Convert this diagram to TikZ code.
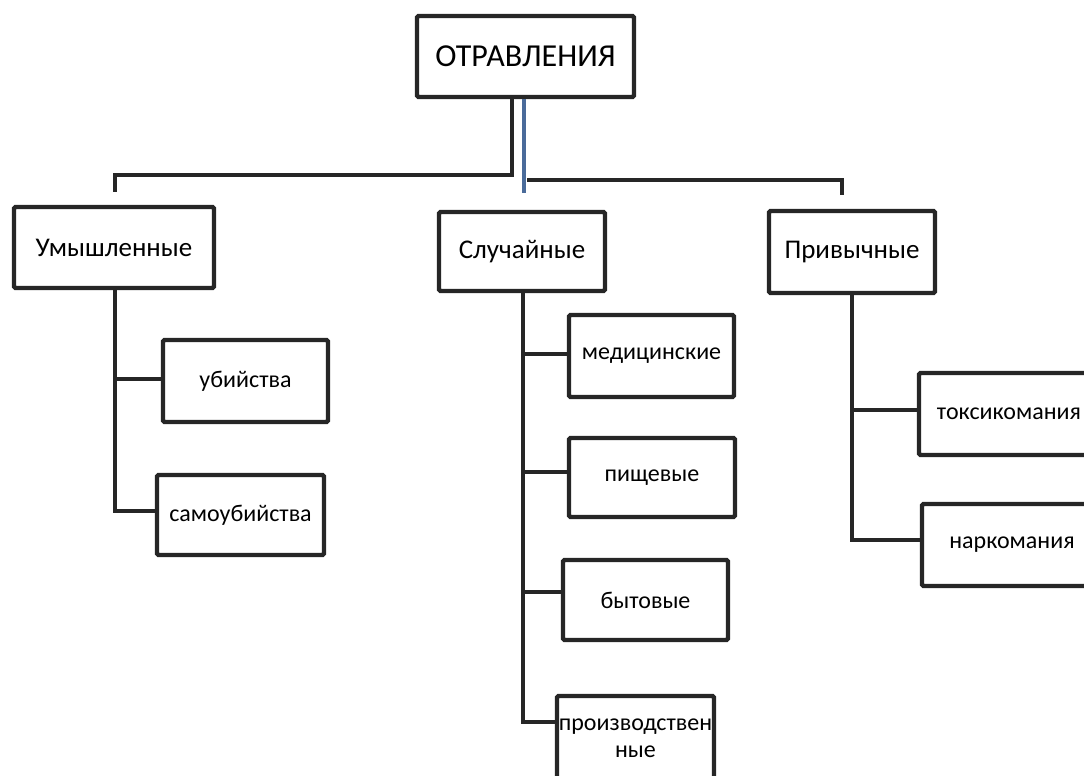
\documentclass[tikz,border=0pt]{standalone}
\usepackage{fontspec}
\setmainfont{Carlito}
\begin{document}
\begin{tikzpicture}[x=1pt,y=-1pt,
  box/.style={draw=lineclr, line width=4.4pt, rounded corners=1.5pt, fill=white, inner sep=0pt, align=center},
  big/.style={box, font=\fontsize{27}{31}\selectfont},
  small/.style={box, font=\fontsize{24}{27}\selectfont},
  conn/.style={draw=lineclr, line width=4.4pt},
  blueconn/.style={draw=blueclr, line width=4.4pt}]
\definecolor{lineclr}{HTML}{262626}
\definecolor{blueclr}{HTML}{4A6B9A}
\useasboundingbox (0,0) rectangle (1084,776);
% main boxes
\node[box, font=\fontsize{32}{36}\selectfont, minimum width=217, minimum height=81] (top) at (525.5,56.5) {ОТРАВЛЕНИЯ};
\node[big, minimum width=200, minimum height=81] (um) at (114,247.5) {Умышленные};
\node[big, minimum width=166, minimum height=79] (sl) at (522,251.5) {Случайные};
\node[big, minimum width=166, minimum height=82] (pr) at (852,252) {Привычные};
% children
\node[small, minimum width=165, minimum height=82] (ub) at (245.5,381) {убийства};
\node[small, minimum width=167, minimum height=80] (sam) at (240.5,515) {самоубийства};
\node[small, minimum width=165, minimum height=82] (med) at (651.5,356) {медицинские};
\node[small, minimum width=166, minimum height=79] (pish) at (652,477.5) {пищевые};
\node[small, minimum width=165, minimum height=80] (byt) at (645.5,600) {бытовые};
\node[small, minimum width=157, minimum height=84] (proiz) at (635.5,738) {производствен\\ные};
\node[small, minimum width=180, minimum height=82] (toks) at (1009,414) {токсикомания};
\node[small, minimum width=180, minimum height=82] (nark) at (1012,545) {наркомания};
% stub ends
\coordinate (lstub) at (115,192);
\coordinate (rstub) at (842,195);
\coordinate (mstub) at (524,193);
% top connectors
\draw[conn] (top.south -| 512,0) -- (512,175) -- (115,175) -- (lstub);
\draw[conn] (527,180) -- (842,180) -- (rstub);
\draw[blueconn] (top.south -| 524,0) -- (mstub);
% Умышленные branch
\draw[conn] (um.south -| 115,0) -- (115,513);
\draw[conn] (115,379) -- (ub.west |- 0,379);
\draw[conn] (115,511) -- (sam.west |- 0,511);
% Случайные branch
\draw[conn] (sl.south -| 523,0) -- (523,724);
\draw[conn] (523,354) -- (med.west |- 0,354);
\draw[conn] (523,472) -- (pish.west |- 0,472);
\draw[conn] (523,592) -- (byt.west |- 0,592);
\draw[conn] (523,722) -- (proiz.west |- 0,722);
% Привычные branch
\draw[conn] (pr.south -| 852,0) -- (852,542);
\draw[conn] (852,410) -- (toks.west |- 0,410);
\draw[conn] (852,540) -- (nark.west |- 0,540);
\end{tikzpicture}
\end{document}
